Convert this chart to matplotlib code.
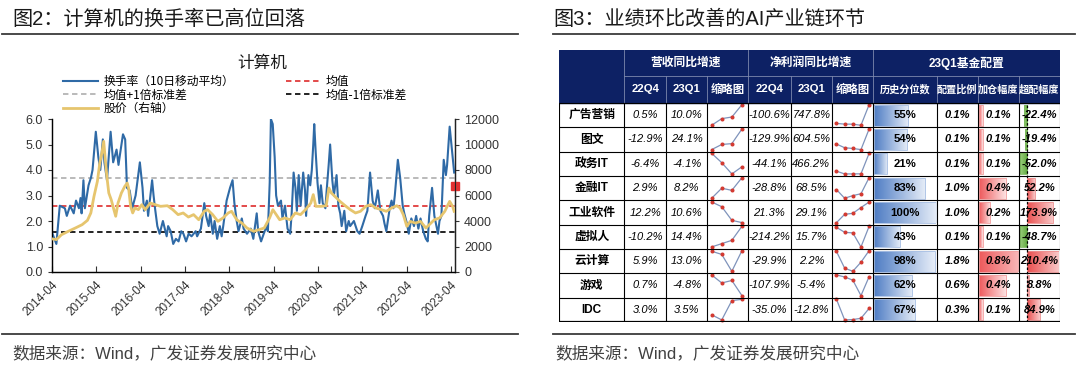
import numpy as np
import pandas as pd
import matplotlib
matplotlib.use('Agg')
import matplotlib.pyplot as plt
from matplotlib.colors import LinearSegmentedColormap
from matplotlib.lines import Line2D
from matplotlib.patches import Rectangle

plt.rcParams['font.family'] = ['Liberation Sans', 'Noto Sans CJK SC']
plt.rcParams['axes.unicode_minus'] = False

W, H = 1080, 366

# ---------------- 图2 数据 ----------------
turn_dates = [
    '2014-04-01', '2014-05-07', '2014-06-04', '2014-07-16', '2014-08-01', '2014-08-28', '2014-09-27', '2014-10-16', '2014-11-09', '2014-11-22',
    '2014-12-01', '2014-12-16', '2014-12-28', '2015-01-27', '2015-02-16', '2015-03-01', '2015-03-28', '2015-04-18', '2015-05-04', '2015-05-25',
    '2015-06-07', '2015-06-28', '2015-07-28', '2015-08-18', '2015-09-15', '2015-10-01', '2015-10-13', '2015-11-07', '2015-11-25', '2015-12-10',
    '2016-01-01', '2016-01-22', '2016-02-19', '2016-03-25', '2016-04-16', '2016-04-28', '2016-05-22', '2016-06-01', '2016-07-04', '2016-07-16',
    '2016-07-28', '2016-08-16', '2016-09-04', '2016-10-01', '2016-11-01', '2016-11-13', '2016-12-04', '2016-12-25', '2017-01-16', '2017-02-07',
    '2017-03-01', '2017-03-19', '2017-04-10', '2017-05-01', '2017-05-25', '2017-06-28', '2017-07-10', '2017-08-10', '2017-09-07', '2017-09-22',
    '2017-10-13', '2017-10-25', '2017-11-16', '2017-12-01', '2017-12-22', '2018-01-13', '2018-01-28', '2018-02-10', '2018-03-10', '2018-04-07',
    '2018-04-28', '2018-05-13', '2018-06-01', '2018-06-16', '2018-07-13', '2018-07-28', '2018-08-25', '2018-09-25', '2018-10-16', '2018-11-13',
    '2018-11-25', '2018-12-19', '2019-01-10', '2019-02-01', '2019-02-13', '2019-02-28', '2019-03-10', '2019-03-25', '2019-04-10', '2019-04-22',
    '2019-05-07', '2019-06-01', '2019-06-13', '2019-07-04', '2019-07-25', '2019-08-16', '2019-08-28', '2019-09-13', '2019-09-28', '2019-10-10',
    '2019-10-25', '2019-11-10', '2019-12-01', '2019-12-16', '2019-12-25', '2020-01-13', '2020-01-28', '2020-02-10', '2020-02-22', '2020-03-01',
    '2020-03-13', '2020-03-28', '2020-04-13', '2020-04-25', '2020-05-10', '2020-06-01', '2020-06-13', '2020-06-28', '2020-07-10', '2020-07-28',
    '2020-08-10', '2020-09-01', '2020-09-16', '2020-10-01', '2020-10-13', '2020-11-04', '2020-11-19', '2020-12-10', '2020-12-22', '2021-01-22',
    '2021-02-19', '2021-03-10', '2021-04-01', '2021-04-28', '2021-05-13', '2021-06-04', '2021-06-25', '2021-07-13', '2021-08-07', '2021-08-28',
    '2021-09-19', '2021-10-01', '2021-10-16', '2021-11-13', '2021-11-28', '2021-12-13', '2021-12-25', '2022-01-19', '2022-02-07', '2022-02-28',
    '2022-03-13', '2022-04-04', '2022-04-19', '2022-05-10', '2022-06-01', '2022-06-19', '2022-07-07', '2022-07-25', '2022-08-16', '2022-09-07',
    '2022-09-22', '2022-10-04', '2022-10-28', '2022-11-16', '2022-12-16', '2022-12-28', '2023-01-13', '2023-02-01', '2023-02-19', '2023-03-01',
    '2023-03-22', '2023-04-10', '2023-04-22', '2023-04-28']
turn_vals = [
    1.55, 1.1, 2.6, 2.5, 2.2, 2.6, 2.3, 2.8, 2.5, 2.9,
    2.3, 3.6, 2.5, 3.4, 3.7, 4.0, 5.5, 4.5, 4.0, 5.2,
    4.3, 3.6, 5.5, 4.3, 4.8, 4.2, 4.6, 5.4, 5.2, 3.3,
    3.2, 2.5, 3.0, 4.3, 3.3, 2.4, 2.8, 2.2, 3.6, 3.0,
    2.5, 1.8, 1.5, 2.0, 1.4, 1.8, 1.6, 1.1, 1.3, 1.2,
    1.6, 1.5, 1.2, 1.5, 1.4, 1.6, 1.4, 1.7, 2.7, 2.2,
    1.8, 2.3, 1.5, 2.0, 1.3, 1.8, 1.4, 1.8, 2.8, 3.3,
    3.6, 2.7, 2.0, 1.6, 2.1, 1.7, 1.5, 1.7, 1.3, 2.3,
    1.6, 1.2, 1.5, 1.8, 1.6, 3.5, 6.0, 5.8, 4.5, 3.0,
    2.6, 2.8, 2.1, 2.6, 1.7, 1.5, 2.3, 3.9, 3.3, 2.4,
    3.8, 2.6, 3.9, 3.2, 2.2, 3.8, 3.4, 4.0, 5.0, 5.8,
    4.7, 3.5, 2.7, 3.4, 2.7, 2.5, 3.3, 4.2, 5.0, 3.6,
    3.0, 3.8, 2.6, 2.3, 1.8, 2.4, 1.6, 2.0, 1.8, 2.0,
    1.6, 1.5, 1.8, 2.2, 2.4, 3.9, 2.8, 2.5, 3.2, 2.4,
    2.2, 1.9, 1.6, 2.5, 2.8, 2.5, 3.0, 4.4, 3.7, 2.6,
    2.3, 1.9, 1.5, 2.1, 1.8, 2.2, 1.7, 2.1, 1.6, 1.3,
    1.2, 2.2, 3.3, 2.2, 1.5, 2.0, 2.2, 4.4, 3.8, 4.2,
    5.7, 4.8, 4.2, 3.9]

price_dates = [
    '2014-04-01', '2014-05-07', '2014-06-19', '2014-08-13', '2014-10-10', '2014-12-05', '2015-01-18', '2015-02-15', '2015-03-13', '2015-04-10',
    '2015-04-30', '2015-05-17', '2015-06-01', '2015-06-12', '2015-06-27', '2015-07-13', '2015-08-02', '2015-08-24', '2015-09-08', '2015-09-27',
    '2015-10-25', '2015-11-22', '2015-12-12', '2015-12-23', '2016-01-09', '2016-01-26', '2016-02-14', '2016-03-13', '2016-04-10', '2016-05-08',
    '2016-06-19', '2016-07-31', '2016-09-12', '2016-11-07', '2016-12-21', '2017-02-03', '2017-03-17', '2017-04-29', '2017-06-11', '2017-07-23',
    '2017-09-06', '2017-10-04', '2017-11-15', '2017-12-28', '2018-02-08', '2018-03-23', '2018-04-20', '2018-06-01', '2018-07-14', '2018-08-25',
    '2018-10-20', '2018-12-02', '2019-01-14', '2019-02-27', '2019-03-26', '2019-04-23', '2019-05-21', '2019-07-03', '2019-08-15', '2019-09-27',
    '2019-11-09', '2019-12-20', '2020-02-02', '2020-02-22', '2020-03-14', '2020-04-26', '2020-06-08', '2020-06-30', '2020-07-20', '2020-08-18',
    '2020-09-29', '2020-11-11', '2020-12-23', '2021-02-04', '2021-03-17', '2021-04-29', '2021-06-10', '2021-07-22', '2021-09-04', '2021-10-16',
    '2021-11-28', '2022-01-10', '2022-02-07', '2022-03-05', '2022-04-03', '2022-05-01', '2022-06-13', '2022-07-25', '2022-09-07', '2022-10-05',
    '2022-11-16', '2022-12-29', '2023-02-10', '2023-03-22', '2023-04-15', '2023-04-28']
price_vals = [
    2600, 2540, 2930, 3190, 3450, 3710, 4050, 4630, 5930, 7110,
    8550, 9330, 10250, 9070, 7500, 6200, 5670, 4890, 4370, 5410,
    6200, 6720, 6980, 6590, 5150, 4630, 5020, 4890, 5280, 4890,
    5410, 5280, 5150, 5200, 4890, 4500, 4630, 4310, 4500, 4100,
    4760, 4890, 4500, 3970, 4240, 4630, 4760, 4100, 3840, 3450,
    3190, 3320, 3450, 4240, 4890, 4500, 4100, 4240, 4100, 4630,
    4500, 4890, 5410, 6070, 5150, 5150, 5200, 6590, 6200, 5930,
    5540, 5200, 4890, 4630, 4760, 5150, 5280, 5020, 4890, 4760,
    5020, 5200, 5020, 4500, 3580, 3970, 3840, 3970, 3450, 3710,
    4100, 4240, 4760, 5540, 5150, 4760]

turn_mean = 2.60
turn_plus_std = 3.67
turn_minus_std = 1.55
latest_date = '2023-05-05'
latest_mark = 3.36
x_start, x_end = '2014-04-01', '2023-05-05'
tick_years = list(range(2014, 2024))

# ---------------- 图3 数据 ----------------
sectors = ['广告营销', '图文', '政务IT', '金融IT', '工业软件', '虚拟人', '云计算', '游戏', 'IDC']
rev_22q4 = [0.5, -12.9, -6.4, 2.9, 12.2, -10.2, 5.9, 0.7, 3.0]
rev_23q1 = [10.0, 24.1, -4.1, 8.2, 10.6, 14.4, 13.0, -4.8, 3.5]
rev_prev = [[-5.8, -0.7], [-28.0, -15.0], [0.2, -2.8], [-0.4, 3.8], [25.1, 21.8],
            [-21.8, -16.0], [12.8, 11.7], [2.7, -0.2], [-2.5, -4.5]]
np_22q4 = [-100.6, -129.9, -44.1, -28.8, 21.3, -214.2, -29.9, -107.9, -35.0]
np_23q1 = [747.8, 604.5, 466.2, 68.5, 29.1, 15.7, 2.2, -5.4, -12.8]
np_prev = [[-24.2, -53.9, -55.0], [68.4, -63.8, -89.5], [22.2, -47.0, -46.0],
           [-3.8, -56.2, -40.0], [0.2, 11.8, 13.2], [4.2, -51.0, -57.9],
           [-0.1, -46.5, -55.1], [3.5, -7.0, -24.3], [7.6, -38.7, -37.8]]
hist_pct = [55, 54, 21, 83, 100, 43, 98, 62, 67]
alloc = [0.1, 0.1, 0.1, 1.0, 1.0, 0.1, 1.8, 0.6, 0.3]
add_pos = [0.1, 0.1, 0.1, 0.4, 0.2, 0.1, 0.8, 0.4, 0.1]
over_w = [-22.4, -19.4, -52.0, 52.2, 173.9, -48.7, 210.4, 8.8, 84.9]

hdr_groups = ['营收同比增速', '净利润同比增速', '23Q1基金配置']
hdr_cols = ['22Q4', '23Q1', '缩略图', '22Q4', '23Q1', '缩略图', '历史分位数', '配置比例', '加仓幅度', '超配幅度']

BLUE = '#2f6aa6'
GOLD = '#e6c56e'
NAVY = '#0d2164'
CJK = ['Noto Sans CJK SC', 'DejaVu Sans']
LAT = ['Liberation Sans', 'Noto Sans CJK SC']


def rect(x0, y0, x1, y1):
    return [x0 / W, 1 - y1 / H, (x1 - x0) / W, (y1 - y0) / H]


def fx(x):
    return x / W


def fy(y):
    return 1 - y / H


fig = plt.figure(figsize=(W / 100, H / 100), dpi=100)
fig.patch.set_facecolor('white')

# ---- titles, rules, sources ----
fig.text(fx(12), fy(19), '图2：计算机的换手率已高位回落', fontsize=14.5, color='#1a1a1a', va='center', ha='left')
fig.text(fx(553), fy(19), '图3：业绩环比改善的AI产业链环节', fontsize=14.5, color='#1a1a1a', va='center', ha='left')
for (a, b) in [(2, 518), (553, 1075)]:
    fig.add_artist(Line2D([fx(a), fx(b)], [fy(34), fy(34)], transform=fig.transFigure, color='#3a3a3a', lw=1.3))
    fig.add_artist(Line2D([fx(a), fx(b)], [fy(334), fy(334)], transform=fig.transFigure, color='#3a3a3a', lw=1.3))
fig.text(fx(12), fy(353), '数据来源：Wind，广发证券发展研究中心', fontsize=12, color='#404040', va='center')
fig.text(fx(555), fy(353), '数据来源：Wind，广发证券发展研究中心', fontsize=12, color='#404040', va='center')

# ---------------- 图2 ----------------
ax = fig.add_axes(rect(52, 119, 455, 272))
td = pd.to_datetime(turn_dates)
pdt = pd.to_datetime(price_dates)
ax.plot(td, turn_vals, color=BLUE, lw=1.5, zorder=3)
ax.axhline(turn_mean, color='#e03c3c', lw=1.3, ls=(0, (3, 2)), zorder=2)
ax.axhline(turn_plus_std, color='#b4b4b4', lw=1.3, ls=(0, (3, 2)), zorder=2)
ax.axhline(turn_minus_std, color='#111111', lw=1.3, ls=(0, (3, 2)), zorder=2)
ax.plot([pd.Timestamp(latest_date)], [latest_mark], marker='s', ms=5.5, color='#e03030', clip_on=False, zorder=6)
ax.set_ylim(0, 6)
ax.set_yticks(np.arange(0, 6.1, 1.0))
ax.set_yticklabels([f'{v:.1f}' for v in np.arange(0, 6.1, 1.0)])
ax.set_xlim(pd.Timestamp(x_start), pd.Timestamp(x_end))
ticks = [pd.Timestamp(f'{y}-04-01') for y in tick_years]
ax.set_xticks(ticks)
ax.set_xticklabels([f'{y}-04' for y in tick_years], rotation=45, ha='right', rotation_mode='anchor')
ax.tick_params(axis='x', direction='in', length=4, labelsize=8.5, colors='#333333', pad=5)
ax.tick_params(axis='y', direction='out', length=3, labelsize=9, colors='#333333')
ax.spines['top'].set_visible(False)
for s in ['left', 'bottom', 'right']:
    ax.spines[s].set_color('#222222')
    ax.spines[s].set_linewidth(1.0)

ax2 = ax.twinx()
ax2.plot(pdt, price_vals, color=GOLD, lw=2.0, zorder=3)
ax2.set_ylim(0, 12000)
ax2.set_yticks(range(0, 12001, 2000))
ax2.tick_params(axis='y', direction='out', length=3, labelsize=9, colors='#333333')
ax2.spines['top'].set_visible(False)
ax2.spines['right'].set_color('#222222')

fig.text(fx(262), fy(63), '计算机', fontsize=12, color='#1a1a1a', ha='center', va='center')
dash = (0, (3, 2))
handles = [Line2D([], [], color=BLUE, lw=1.5),
           Line2D([], [], color='#b4b4b4', lw=1.3, ls=dash),
           Line2D([], [], color=GOLD, lw=2.0),
           Line2D([], [], color='#e03c3c', lw=1.3, ls=dash),
           Line2D([], [], color='#111111', lw=1.3, ls=dash)]
labels = ['换手率（10日移动平均）', '均值+1倍标准差', '股价（右轴）', '均值', '均值-1倍标准差']
fig.legend(handles, labels, ncol=2, loc='upper left', bbox_to_anchor=(fx(63), fy(75)),
           frameon=False, prop={'family': CJK, 'size': 8.5}, handlelength=3.0, handletextpad=0.4,
           columnspacing=4.4, labelspacing=0.05, borderpad=0, borderaxespad=0)

# ---------------- 图3 表格 ----------------
col_edges = [559, 624.5, 665.9, 707.2, 747.6, 790.7, 832, 872.8, 936.6, 977.9, 1018.6, 1060]
hdr_y = [50, 76, 103]
row_y = np.linspace(103, 322, len(sectors) + 1)
tx0, tx1 = col_edges[0], col_edges[-1]

tax = fig.add_axes(rect(tx0, hdr_y[0], tx1, row_y[-1]))
tax.set_xlim(tx0, tx1)
tax.set_ylim(row_y[-1], hdr_y[0])
tax.axis('off')
tax.set_zorder(5)
tax.add_patch(Rectangle((tx0, hdr_y[0]), tx1 - tx0, hdr_y[2] - hdr_y[0], color=NAVY, zorder=0))

# header separators
hl = '#7d89ad'
tax.plot([col_edges[1], tx1], [hdr_y[1], hdr_y[1]], color=hl, lw=0.6)
for j in [1, 4, 7]:
    tax.plot([col_edges[j]] * 2, [hdr_y[0], hdr_y[2]], color=hl, lw=0.6)
for j in range(2, 11):
    if j not in (4, 7):
        tax.plot([col_edges[j]] * 2, [hdr_y[1], hdr_y[2]], color=hl, lw=0.6)

grp_spans = [(1, 4), (4, 7), (7, 11)]
for g, (a, b) in zip(hdr_groups, grp_spans):
    tax.text((col_edges[a] + col_edges[b]) / 2, (hdr_y[0] + hdr_y[1]) / 2, g, color='white',
             fontsize=8.5, fontweight='bold', family=LAT, ha='center', va='center')
for j, h in enumerate(hdr_cols):
    fs = 8.2 if j < 6 else 7.3
    tax.text((col_edges[j + 1] + col_edges[j + 2]) / 2, (hdr_y[1] + hdr_y[2]) / 2, h, color='white',
             fontsize=fs, fontweight='bold', family=LAT, ha='center', va='center')

# body grid
for y in row_y:
    tax.plot([tx0, tx1], [y, y], color='black', lw=0.8)
tax.plot([tx0, tx1], [row_y[-1], row_y[-1]], color='black', lw=1.6)
for x in col_edges:
    tax.plot([x, x], [row_y[0], row_y[-1]], color='black', lw=0.8)


def cx(j):
    return (col_edges[j] + col_edges[j + 1]) / 2


for i, name in enumerate(sectors):
    yc = (row_y[i] + row_y[i + 1]) / 2
    tax.text(cx(0), yc, name, fontsize=8.5, fontweight='bold', family=LAT, ha='center', va='center')
    tax.text(cx(1), yc, f'{rev_22q4[i]:.1f}%', fontsize=8, style='italic', family=LAT, ha='center', va='center')
    tax.text(cx(2), yc, f'{rev_23q1[i]:.1f}%', fontsize=8, style='italic', family=LAT, ha='center', va='center')
    tax.text(cx(4), yc, f'{np_22q4[i]:.1f}%', fontsize=8, style='italic', family=LAT, ha='center', va='center')
    tax.text(cx(5), yc, f'{np_23q1[i]:.1f}%', fontsize=8, style='italic', family=LAT, ha='center', va='center')
    tax.text(cx(7), yc, f'{hist_pct[i]:.0f}%', fontsize=8.2, fontweight='bold', family=LAT, ha='center', va='center')
    tax.text(cx(8), yc, f'{alloc[i]:.1f}%', fontsize=8, fontweight='bold', style='italic', family=LAT, ha='center', va='center')
    tax.text(cx(9), yc, f'{add_pos[i]:.1f}%', fontsize=8, fontweight='bold', style='italic', family=LAT, ha='center', va='center')
    tax.text(cx(10), yc, f'{over_w[i]:.1f}%', fontsize=8, fontweight='bold', style='italic', family=LAT, ha='center', va='center')


# sparklines
def spark(j, i, vals, xl):
    a = fig.add_axes(rect(col_edges[j], row_y[i], col_edges[j + 1], row_y[i + 1]))
    a.plot(range(len(vals)), vals, color='#7f93bb', lw=0.9, marker='o', ms=1.9,
           mfc='#d33a31', mec='#d33a31', clip_on=False)
    lo, hi = min(vals), max(vals)
    r = hi - lo
    a.set_xlim(*xl)
    a.set_ylim(lo - 0.1 * r, hi + 0.08 * r)
    a.axis('off')
    a.set_zorder(1)


for i in range(len(sectors)):
    spark(3, i, rev_prev[i] + [rev_22q4[i], rev_23q1[i]], (-0.44, 3.56))
    spark(6, i, np_prev[i] + [np_22q4[i], np_23q1[i]], (-0.55, 4.45))


# data bars
def grad_bar(a, left, width, y, h, c0, c1, ec):
    cmap = LinearSegmentedColormap.from_list('g', [c0, c1])
    a.imshow(np.linspace(0, 1, 100)[None, :], cmap=cmap, aspect='auto', interpolation='bilinear',
             extent=[left, left + width, y + h / 2, y - h / 2], zorder=1)
    a.add_patch(Rectangle((left, y - h / 2), width, h, fill=False, ec=ec, lw=0.6, zorder=2))


def bar_axes(j):
    a = fig.add_axes(rect(col_edges[j] + 0.8, row_y[0], col_edges[j + 1] - 0.8, row_y[-1]))
    a.set_zorder(1)
    return a


ah = bar_axes(7)
for i, v in enumerate(hist_pct):
    grad_bar(ah, 0, v, i + 0.5, 0.86, '#4f7dc4', '#e6edf8', '#a9c0e4')
ah.set_xlim(0, 100)
ah.set_ylim(len(sectors), 0)
ah.axis('off')

aa = bar_axes(9)
for i, v in enumerate(add_pos):
    grad_bar(aa, 0.05, v - 0.05, i + 0.5, 0.86, '#ee5a5c', '#fde6e6', '#f3a0a0')
aa.set_xlim(0.05, 0.55)
aa.set_ylim(len(sectors), 0)
aa.axis('off')

ao = bar_axes(10)
for i, v in enumerate(over_w):
    if v >= 0:
        grad_bar(ao, 0, v, i + 0.5, 0.86, '#ea4f4f', '#f8c8c8', '#ee8f8f')
    else:
        grad_bar(ao, v, -v, i + 0.5, 0.86, '#9acd7c', '#5ea83c', '#7ab85c')
ao.axvline(0, color='black', lw=0.9, ls=(0, (2, 1.5)), zorder=3)
ao.set_xlim(-54, 214)
ao.set_ylim(len(sectors), 0)
ao.axis('off')

fig.savefig('out.png', dpi=100, facecolor='white')
